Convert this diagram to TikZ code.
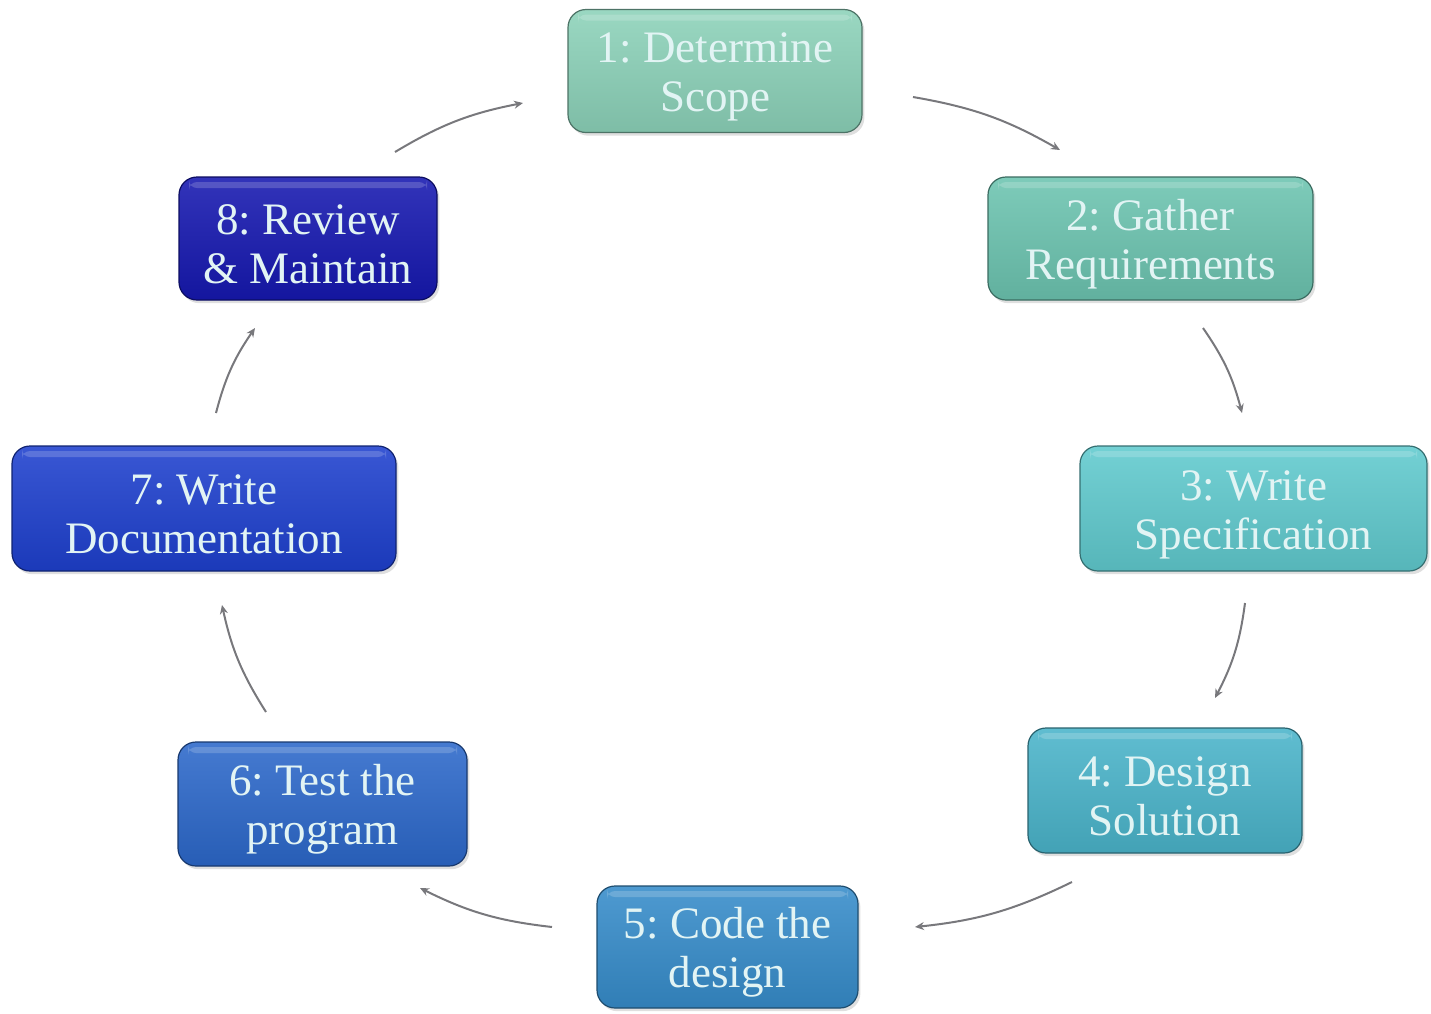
\documentclass[tikz,border=0pt]{standalone}
\usepackage{fontspec}
\setmainfont{Liberation Serif}
\usetikzlibrary{shadows,arrows.meta}

% stage colours, from mint green round to deep blue
\definecolor{s1}{RGB}{140,210,185}
\definecolor{s2}{RGB}{108,196,176}
\definecolor{s3}{RGB}{96,202,206}
\definecolor{s4}{RGB}{74,180,202}
\definecolor{s5}{RGB}{54,140,202}
\definecolor{s6}{RGB}{44,104,202}
\definecolor{s7}{RGB}{30,64,206}
\definecolor{s8}{RGB}{22,24,176}
\definecolor{labeltext}{RGB}{226,244,244}
\definecolor{flow}{RGB}{120,120,124}

% two-line stage label, with a strut that lowers the block slightly
\newcommand\stagelabel[2]{\rule{0pt}{21pt}#1\\#2}

\tikzset{
  stage/.style={
    rounded corners=9pt, inner sep=0pt, align=center,
    top color=#1!88!white, bottom color=#1!90!black,
    draw=#1!55!black, line width=0.6pt,
    drop shadow={shadow xshift=1.2pt, shadow yshift=-1.6pt, opacity=0.25},
    text=labeltext,
    font=\frenchspacing\fontsize{22.5}{24.5}\selectfont,
    % glossy band just inside the top edge
    path picture={
      \fill[white, opacity=0.18, rounded corners=4pt]
        ([xshift=5pt,yshift=-2.5pt]path picture bounding box.north west)
        rectangle ([xshift=-5pt,yshift=-5.5pt]path picture bounding box.north east);
    }
  },
  flowarrow/.style={draw=flow, line width=1pt,
    -{Stealth[length=4.5pt,width=4pt]}, bend left=10}
}

\begin{document}
\begin{tikzpicture}[x=0.5pt,y=-0.5pt]
\useasboundingbox (0,0) rectangle (1431,1013);

% the eight stages of the cycle
\node[stage=s1, minimum width=147pt, minimum height=61.5pt] (n1) at (715,71)   {\stagelabel{1: Determine}{Scope}};
\node[stage=s2, minimum width=162.5pt, minimum height=61.5pt] (n2) at (1150.5,238.5) {\stagelabel{2: Gather}{Requirements}};
\node[stage=s3, minimum width=173.5pt, minimum height=62.5pt] (n3) at (1253.5,508.5) {\stagelabel{3: Write}{Specification}};
\node[stage=s4, minimum width=137pt, minimum height=62.5pt] (n4) at (1165,790.5) {\stagelabel{4: Design}{Solution}};
\node[stage=s5, minimum width=130.5pt, minimum height=61pt] (n5) at (727.5,947) {\stagelabel{5: Code the}{design}};
\node[stage=s6, minimum width=144.5pt, minimum height=62pt] (n6) at (322.5,804) {\stagelabel{6: Test the}{program}};
\node[stage=s7, minimum width=192pt, minimum height=62.5pt] (n7) at (204,508.5) {\stagelabel{7: Write}{Documentation}};
\node[stage=s8, minimum width=129pt, minimum height=61.5pt] (n8) at (308,238.5) {\stagelabel{8: Review}{\& Maintain}};

% end points of the connecting arcs
\coordinate (a1s) at (913,97);   \coordinate (a1e) at (1060,150);
\coordinate (a2s) at (1203,328); \coordinate (a2e) at (1242,413);
\coordinate (a3s) at (1245,603); \coordinate (a3e) at (1215,698);
\coordinate (a4s) at (1072,882); \coordinate (a4e) at (915,927);
\coordinate (a5s) at (552,927);  \coordinate (a5e) at (420,888);
\coordinate (a6s) at (266,712);  \coordinate (a6e) at (222,605);
\coordinate (a7s) at (216,413);  \coordinate (a7e) at (255,328);
\coordinate (a8s) at (395,152);  \coordinate (a8e) at (523,103);

% clockwise flow between stages
\foreach \i in {1,...,8}
  \draw[flowarrow] (a\i s) to (a\i e);
\end{tikzpicture}
\end{document}
